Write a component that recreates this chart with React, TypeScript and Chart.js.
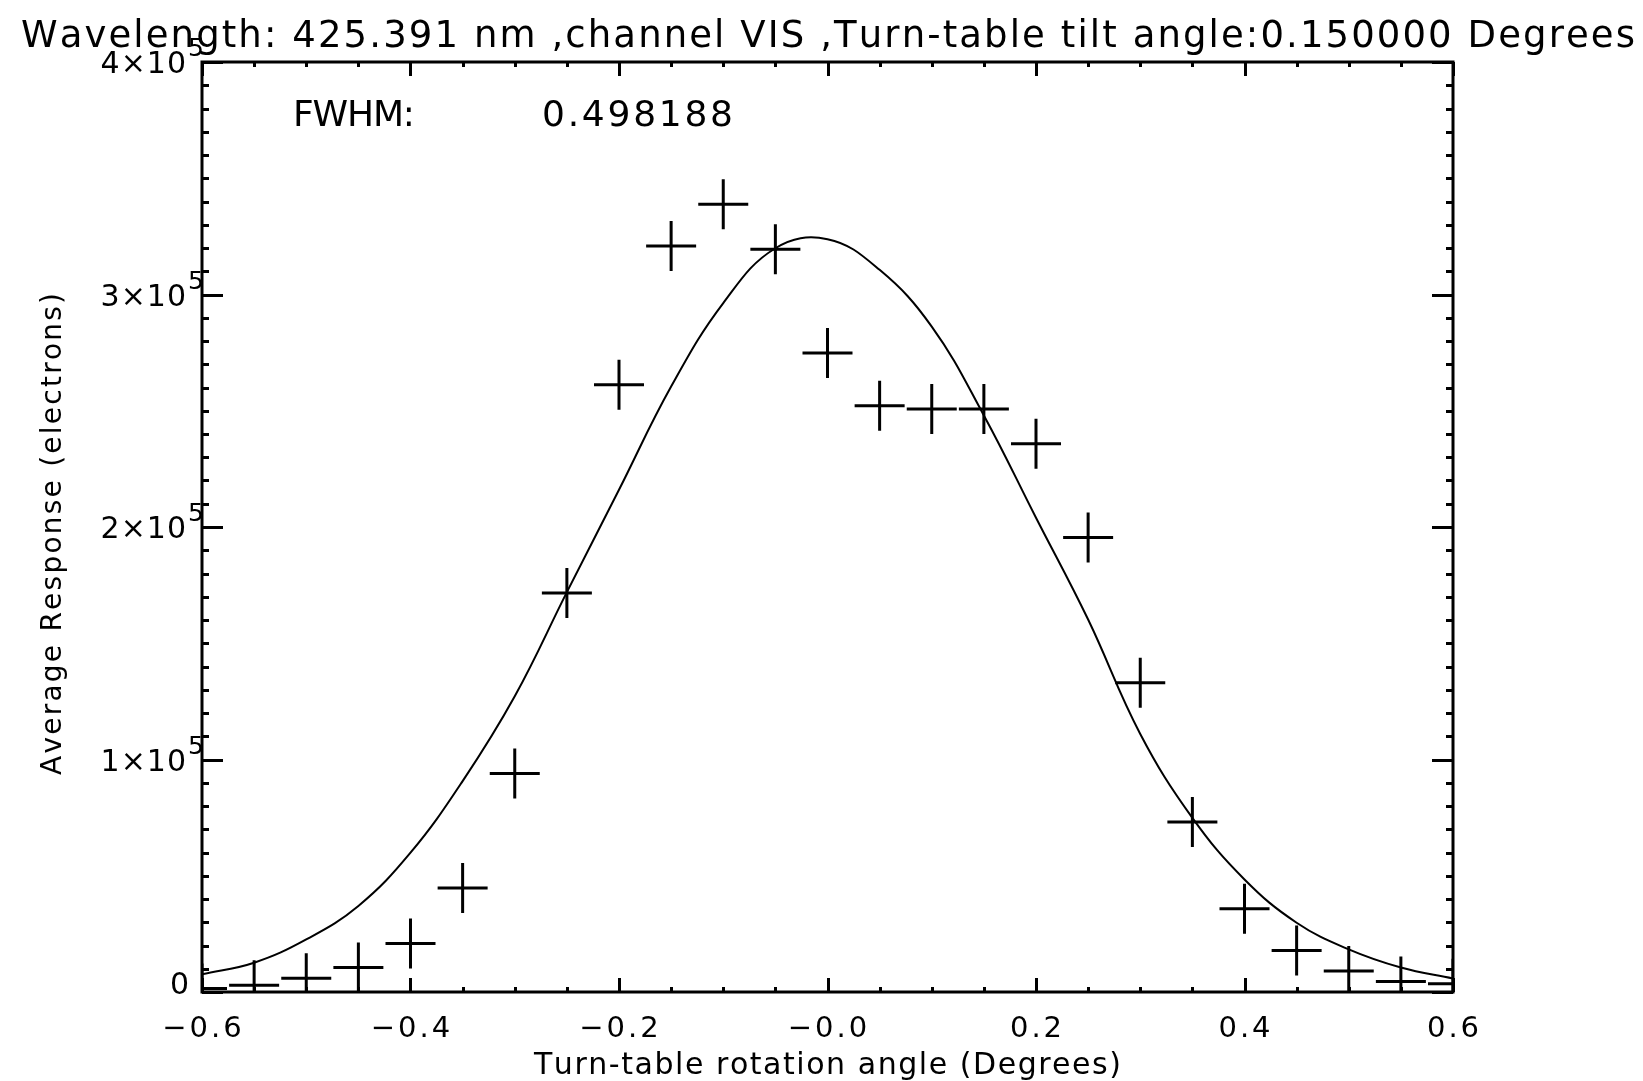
import React, { useEffect, useRef } from "react";
import { Chart, registerables } from "chart.js";

Chart.register(...registerables);

// ---- data ----
const angles = [
  -0.6, -0.55, -0.5, -0.45, -0.4, -0.35, -0.3, -0.25, -0.2, -0.15, -0.1, -0.05, 0,
  0.05, 0.1, 0.15, 0.2, 0.25, 0.3, 0.35, 0.4, 0.45, 0.5, 0.55, 0.6,
];
const measuredResponse = [
  1500, 2900, 5900, 10500, 20900, 44700, 94000, 171600, 261200, 320900, 338800, 319500, 274800,
  252100, 250700, 250700, 235800, 195500, 133000, 73100, 35800, 17900, 9000, 4500, 3500,
];
const fittedResponse = [
  7600, 12600, 22600, 37000, 59900, 90700, 127200, 172000, 216000, 260400, 296300, 319900, 323800,
  310600, 286200, 248000, 204000, 160200, 111000, 74900, 48400, 29800, 18300, 10500, 5800,
];

const xTickValues = [-0.6, -0.4, -0.2, 0, 0.2, 0.4, 0.6];
const xTickLabels = ["\u22120.6", "\u22120.4", "\u22120.2", "\u22120.0", "0.2", "0.4", "0.6"];
const yTickValues = [0, 100000, 200000, 300000, 400000];
const yTickLabels = ["0", "1\u00d710", "2\u00d710", "3\u00d710", "4\u00d710"];
const yTickExponents = ["", "5", "5", "5", "5"];

const titleText = "Wavelength: 425.391 nm ,channel VIS ,Turn-table tilt angle:0.150000 Degrees";
const xTitle = "Turn-table rotation angle (Degrees)";
const yTitle = "Average Response (electrons)";
const fwhmLabel = "FWHM:";
const fwhmValue = "0.498188";

const FONT = "'DejaVu Sans', 'Liberation Sans', sans-serif";

function drawSpaced(ctx: CanvasRenderingContext2D, text: string, x: number, y: number, ls: number) {
  let cx = x;
  for (const ch of Array.from(text)) {
    ctx.fillText(ch, cx, y);
    cx += ctx.measureText(ch).width + ls;
  }
}

function textWidth(ctx: CanvasRenderingContext2D, text: string, ls: number) {
  const chars = Array.from(text);
  let w = 0;
  for (const ch of chars) w += ctx.measureText(ch).width;
  return w + ls * (chars.length - 1);
}

function drawFitted(ctx: CanvasRenderingContext2D, text: string, left: number, right: number, y: number) {
  const chars = Array.from(text);
  const raw = textWidth(ctx, text, 0);
  const ls = chars.length > 1 ? (right - left - raw) / (chars.length - 1) : 0;
  drawSpaced(ctx, text, left, y, ls);
}

const framePlugin = {
  id: "idlFrame",
  afterDraw(chart: any) {
    const { ctx, chartArea: ca } = chart;
    const xs = chart.scales.x;
    const ys = chart.scales.y;
    ctx.save();
    ctx.strokeStyle = "#000";
    ctx.fillStyle = "#000";
    ctx.lineWidth = 3;
    ctx.lineCap = "butt";
    ctx.strokeRect(ca.left, ca.top, ca.right - ca.left, ca.bottom - ca.top);

    // x ticks (major every 0.2, minor every 0.05), inward on bottom and top
    ctx.beginPath();
    for (let i = -12; i <= 12; i++) {
      const px = Math.round(xs.getPixelForValue(i * 0.05)) + 0.5;
      const len = i % 4 === 0 ? 14 : 5;
      ctx.moveTo(px, ca.bottom);
      ctx.lineTo(px, ca.bottom - len);
      ctx.moveTo(px, ca.top);
      ctx.lineTo(px, ca.top + len);
    }
    // y ticks (major every 1e5, minor every 1e4), inward on left and right
    for (let i = 0; i <= 40; i++) {
      const py = Math.round(ys.getPixelForValue(i * 10000)) + 0.5;
      const len = i % 10 === 0 ? 21 : 7;
      ctx.moveTo(ca.left, py);
      ctx.lineTo(ca.left + len, py);
      ctx.moveTo(ca.right, py);
      ctx.lineTo(ca.right - len, py);
    }
    ctx.stroke();

    ctx.textAlign = "left";
    ctx.textBaseline = "alphabetic";

    // x tick labels
    ctx.font = `29px ${FONT}`;
    xTickValues.forEach((v, i) => {
      const px = xs.getPixelForValue(v);
      const w = textWidth(ctx, xTickLabels[i], 3);
      drawSpaced(ctx, xTickLabels[i], px - w / 2, 1037, 3);
    });

    // y tick labels with exponent
    yTickValues.forEach((v, i) => {
      const py = ys.getPixelForValue(v);
      ctx.font = `30px ${FONT}`;
      const w = textWidth(ctx, yTickLabels[i], 1);
      if (yTickExponents[i]) {
        drawSpaced(ctx, yTickLabels[i], 186 - w, py + 11, 1);
        ctx.font = `25px ${FONT}`;
        drawSpaced(ctx, yTickExponents[i], 188, py - 6, 0);
      } else {
        drawSpaced(ctx, yTickLabels[i], 189 - w, py + 2, 1);
      }
    });

    // title
    ctx.font = `37px ${FONT}`;
    drawFitted(ctx, titleText, 21, 1635, 47);

    // FWHM annotation
    ctx.font = `36px ${FONT}`;
    drawFitted(ctx, fwhmLabel, 293, 415, 126);
    drawFitted(ctx, fwhmValue, 542, 733, 126);

    // x title
    ctx.font = `30px ${FONT}`;
    drawFitted(ctx, xTitle, 534, 1121, 1074);

    // y title (rotated)
    ctx.save();
    ctx.translate(61, 775);
    ctx.rotate(-Math.PI / 2);
    ctx.font = `28px ${FONT}`;
    drawFitted(ctx, yTitle, 0, 482, 0);
    ctx.restore();

    ctx.restore();
  },
};

export default function App() {
  const ref = useRef<HTMLCanvasElement | null>(null);

  useEffect(() => {
    document.body.style.margin = "0";
    document.body.style.background = "#fff";
    const canvas = ref.current;
    if (!canvas) return;
    const chart = new Chart(canvas, {
      type: "line",
      data: {
        datasets: [
          {
            label: "fit",
            data: angles.map((a, i) => ({ x: a, y: fittedResponse[i] })),
            borderColor: "#000",
            borderWidth: 2,
            pointRadius: 0,
            tension: 0.4,
            fill: false,
            clip: 0,
          },
          {
            label: "measured",
            data: angles.map((a, i) => ({ x: a, y: measuredResponse[i] })),
            showLine: false,
            pointStyle: "cross",
            pointRadius: 25,
            pointBorderWidth: 3,
            borderColor: "#000",
            pointBorderColor: "#000",
            backgroundColor: "#000",
            clip: 0,
          },
        ],
      },
      options: {
        animation: false,
        responsive: false,
        devicePixelRatio: 1,
        layout: { padding: { left: 202, right: 190, top: 62, bottom: 89 } },
        plugins: { legend: { display: false }, title: { display: false }, tooltip: { enabled: false } },
        events: [],
        scales: {
          x: { type: "linear", min: -0.6, max: 0.6, display: false },
          y: { type: "linear", min: 0, max: 400000, display: false },
        },
      },
      plugins: [framePlugin],
    } as any);
    return () => chart.destroy();
  }, []);

  return (
    <div style={{ position: "absolute", left: 0, top: 0, width: 1643, height: 1081, background: "#fff" }}>
      <canvas ref={ref} width={1643} height={1081} style={{ display: "block" }} />
    </div>
  );
}
